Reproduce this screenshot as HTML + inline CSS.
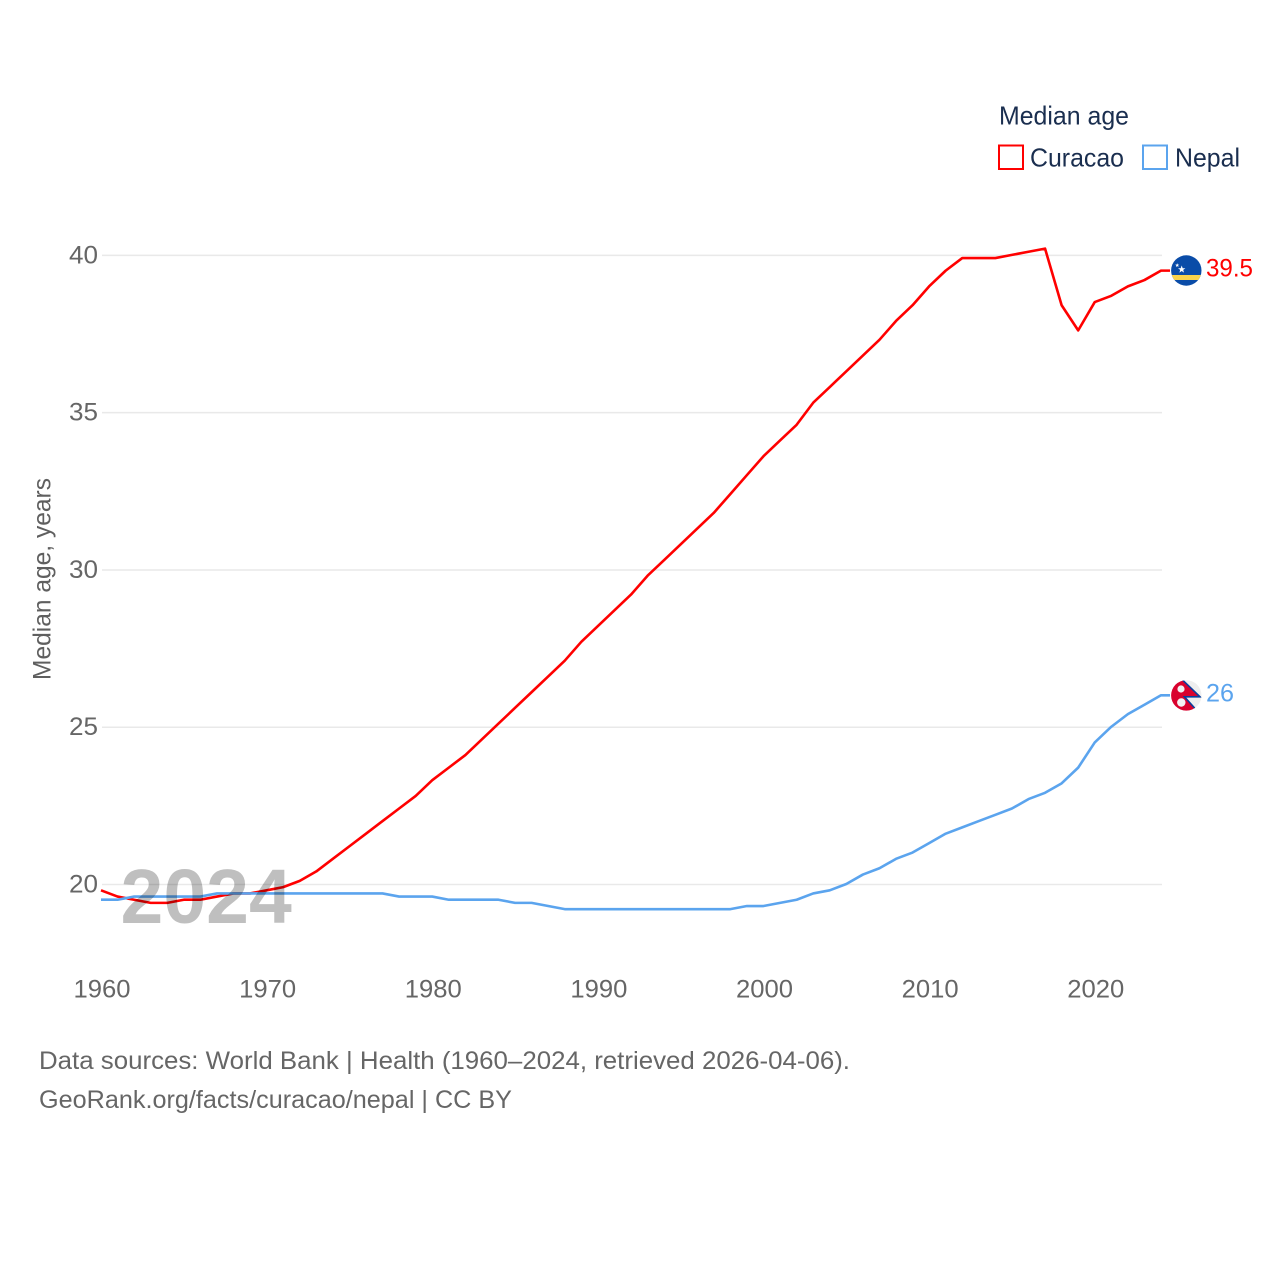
<!DOCTYPE html>
<html lang="en">
<head>
<meta charset="utf-8">
<title>Median age: Curacao and Nepal</title>
<style>
html,body{margin:0;padding:0;background:#fff;}
svg{display:block;font-family:"Liberation Sans",sans-serif;}
</style>
</head>
<body>
<svg id="chart" xmlns="http://www.w3.org/2000/svg" width="1280" height="1280" viewBox="0 0 1280 1280">
  <defs>
    <clipPath id="flag-clip-a"><circle cx="1186.3" cy="270.5" r="15.2"/></clipPath>
    <clipPath id="flag-clip-b"><circle cx="1186.3" cy="695.4" r="15.2"/></clipPath>
  </defs>
  <rect width="1280" height="1280" fill="#fff"/>
  <g id="grid"></g>
  <g id="yticks"></g>
  <g id="xticks"></g>
  <text transform="translate(50.5,680) rotate(-90)" font-size="25" fill="#5f5f5f" textLength="202" lengthAdjust="spacingAndGlyphs">Median age, years</text>
  <g id="lines"></g>
  <text x="120.5" y="923" font-size="77" font-weight="700" fill="#000" fill-opacity="0.25">2024</text>

  <g clip-path="url(#flag-clip-a)">
    <rect x="1170" y="254" width="33" height="33" fill="#0a4ca8"/>
    <rect x="1170" y="275" width="33" height="5" fill="#f9d34c"/>
    <polygon points="1181.7,265.5 1182.7,268.2 1185.4,268.2 1183.2,269.9 1184,272.6 1181.7,271 1179.4,272.6 1180.2,269.9 1178,268.2 1180.7,268.2" fill="#fff"/>
    <polygon points="1177.2,263.2 1177.8,264.6 1179.2,264.6 1178.1,265.5 1178.5,267 1177.2,266.1 1175.9,267 1176.3,265.5 1175.2,264.6 1176.6,264.6" fill="#fff"/>
  </g>
  <g clip-path="url(#flag-clip-b)">
    <rect x="1170" y="679" width="33" height="33" fill="#eeeeee"/>
    <path d="M1170 678 L1180.5 678 L1200 696.8 L1184.5 696.8 L1195.5 709 L1192 712 L1170 712 Z" fill="#d9022e"/>
    <path d="M1181 678.5 L1200 696.8 L1184.5 696.8 L1195.5 709" fill="none" stroke="#0a3f9c" stroke-width="1.6"/>
    <circle cx="1181" cy="689" r="3.6" fill="#f3f3f3"/>
    <circle cx="1181.3" cy="702.5" r="4.2" fill="#f3f3f3"/>
  </g>

  <text x="1206" y="276.5" font-size="25" fill="#ff0000" textLength="47" lengthAdjust="spacingAndGlyphs">39.5</text>
  <text x="1206" y="701.5" font-size="25" fill="#5ba4ee" textLength="28" lengthAdjust="spacingAndGlyphs">26</text>

  <text x="999" y="124.5" font-size="26" fill="#1a2e4f" textLength="130" lengthAdjust="spacingAndGlyphs">Median age</text>
  <rect x="999" y="145.5" width="24" height="23.5" fill="#fff" stroke="#ff0000" stroke-width="2"/>
  <text x="1030" y="166.5" font-size="26" fill="#1a2e4f" textLength="94" lengthAdjust="spacingAndGlyphs">Curacao</text>
  <rect x="1143" y="145.5" width="24" height="23.5" fill="#fff" stroke="#5ba4ee" stroke-width="2"/>
  <text x="1175" y="166.5" font-size="26" fill="#1a2e4f" textLength="65" lengthAdjust="spacingAndGlyphs">Nepal</text>

  <text x="39" y="1069" font-size="25" fill="#666" textLength="811" lengthAdjust="spacingAndGlyphs">Data sources: World Bank | Health (1960–2024, retrieved 2026-04-06).</text>
  <text x="39" y="1108" font-size="25" fill="#666" textLength="473" lengthAdjust="spacingAndGlyphs">GeoRank.org/facts/curacao/nepal | CC BY</text>
</svg>
<script>
const years = [1960,1961,1962,1963,1964,1965,1966,1967,1968,1969,1970,1971,1972,1973,1974,1975,1976,1977,1978,1979,1980,1981,1982,1983,1984,1985,1986,1987,1988,1989,1990,1991,1992,1993,1994,1995,1996,1997,1998,1999,2000,2001,2002,2003,2004,2005,2006,2007,2008,2009,2010,2011,2012,2013,2014,2015,2016,2017,2018,2019,2020,2021,2022,2023,2024];
const curacao = [19.8,19.6,19.5,19.4,19.4,19.5,19.5,19.6,19.7,19.7,19.8,19.9,20.1,20.4,20.8,21.2,21.6,22.0,22.4,22.8,23.3,23.7,24.1,24.6,25.1,25.6,26.1,26.6,27.1,27.7,28.2,28.7,29.2,29.8,30.3,30.8,31.3,31.8,32.4,33.0,33.6,34.1,34.6,35.3,35.8,36.3,36.8,37.3,37.9,38.4,39.0,39.5,39.9,39.9,39.9,40.0,40.1,40.2,38.4,37.6,38.5,38.7,39.0,39.2,39.5];
const nepal = [19.5,19.5,19.6,19.6,19.6,19.6,19.6,19.7,19.7,19.7,19.7,19.7,19.7,19.7,19.7,19.7,19.7,19.7,19.6,19.6,19.6,19.5,19.5,19.5,19.5,19.4,19.4,19.3,19.2,19.2,19.2,19.2,19.2,19.2,19.2,19.2,19.2,19.2,19.2,19.3,19.3,19.4,19.5,19.7,19.8,20.0,20.3,20.5,20.8,21.0,21.3,21.6,21.8,22.0,22.2,22.4,22.7,22.9,23.2,23.7,24.5,25.0,25.4,25.7,26.0];
const yTickValues = [20,25,30,35,40];
const xTickValues = [1960,1970,1980,1990,2000,2010,2020];

const NS = 'http://www.w3.org/2000/svg';
function xScale(year) { return 101 + (year - 1960) * (1161 - 101) / 64; }
function yScale(value) { return 884 + (value - 20) * (254.9 - 884) / 20; }

const gridGroup = document.getElementById('grid');
const yGroup = document.getElementById('yticks');
const xGroup = document.getElementById('xticks');
const lineGroup = document.getElementById('lines');

yTickValues.forEach(function (v) {
  const line = document.createElementNS(NS, 'line');
  
  
  line.setAttribute('x1', xScale(1960) + 1);
  line.setAttribute('x2', xScale(2024) + 1);
  line.setAttribute('y1', yScale(v) + 0.5);
  line.setAttribute('y2', yScale(v) + 0.5);
  line.setAttribute('stroke', '#e9e9e9');
  line.setAttribute('stroke-width', '1.5');
  gridGroup.appendChild(line);

  const label = document.createElementNS(NS, 'text');
  
  
  label.setAttribute('x', 98);
  label.setAttribute('y', yScale(v) + 8.5);
  label.setAttribute('text-anchor', 'end');
  label.setAttribute('font-size', '25');
  label.setAttribute('fill', '#666');
  label.setAttribute('textLength', '29');
  label.setAttribute('lengthAdjust', 'spacingAndGlyphs');
  label.textContent = String(v);
  yGroup.appendChild(label);
});

xTickValues.forEach(function (t) {
  const label = document.createElementNS(NS, 'text');
  
  
  label.setAttribute('x', xScale(t) + 1);
  label.setAttribute('y', 997.5);
  label.setAttribute('text-anchor', 'middle');
  label.setAttribute('font-size', '25');
  label.setAttribute('fill', '#666');
  label.setAttribute('textLength', '57');
  label.setAttribute('lengthAdjust', 'spacingAndGlyphs');
  label.textContent = String(t);
  xGroup.appendChild(label);
});

function linePath(values) {
  const pts = values.map(function (v, i) {
    return xScale(years[i]).toFixed(2) + ',' + yScale(v).toFixed(2);
  });
  const last = values[values.length - 1];
  pts.push((xScale(years[years.length - 1]) + 9).toFixed(2) + ',' + yScale(last).toFixed(2));
  return 'M' + pts.join('L');
}

const curacaoLine = document.createElementNS(NS, 'path');


curacaoLine.setAttribute('d', linePath(curacao));
curacaoLine.setAttribute('fill', 'none');
curacaoLine.setAttribute('stroke', '#ff0000');
curacaoLine.setAttribute('stroke-width', '2.6');
curacaoLine.setAttribute('stroke-linejoin', 'round');
lineGroup.appendChild(curacaoLine);

const nepalLine = document.createElementNS(NS, 'path');


nepalLine.setAttribute('d', linePath(nepal));
nepalLine.setAttribute('fill', 'none');
nepalLine.setAttribute('stroke', '#5ba4ee');
nepalLine.setAttribute('stroke-width', '2.6');
nepalLine.setAttribute('stroke-linejoin', 'round');
lineGroup.appendChild(nepalLine);
</script>
</body>
</html>
